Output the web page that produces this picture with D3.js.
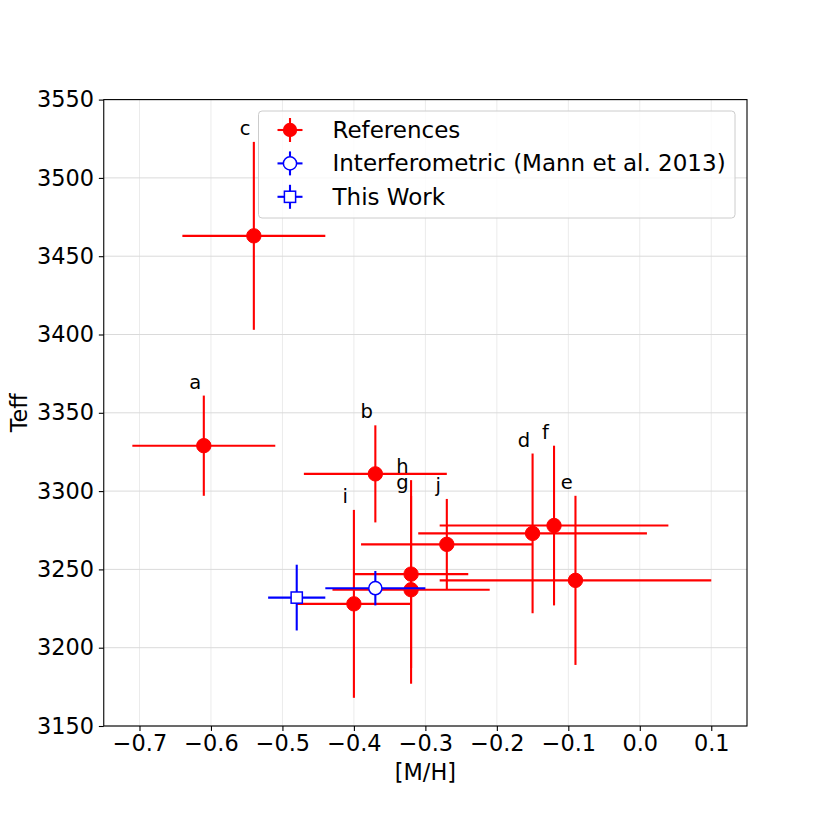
<!DOCTYPE html>
<html>
<head>
<meta charset="utf-8">
<script src="https://cdn.jsdelivr.net/npm/d3@7"></script>
<style>
  html, body { margin: 0; padding: 0; background: #fff; }
  svg { display: block; font-family: "DejaVu Sans", sans-serif; }
</style>
</head>
<body>
<svg id="chart" width="830" height="830"></svg>
<script>
// ---- data ----
const refLabels = ["a", "b", "c", "d", "e", "f", "g", "h", "i", "j"];
const refMH     = [-0.61, -0.37, -0.54, -0.15, -0.09, -0.12, -0.32, -0.32, -0.40, -0.27];
const refMHErr  = [0.10, 0.10, 0.10, 0.16, 0.19, 0.16, 0.11, 0.08, 0.08, 0.12];
const refTeff   = [3329, 3311, 3463, 3273, 3243, 3278, 3237, 3247, 3228, 3266];
const refTeffErr= [32, 31, 60, 51, 54, 51, 60, 60, 60, 29];

const interfMH = [-0.37], interfMHErr = [0.07], interfTeff = [3238], interfTeffErr = [11];
const workMH = [-0.48], workMHErr = [0.04], workTeff = [3232], workTeffErr = [21];

const xTicks = [-0.7, -0.6, -0.5, -0.4, -0.3, -0.2, -0.1, 0.0, 0.1];
const yTicks = [3150, 3200, 3250, 3300, 3350, 3400, 3450, 3500, 3550];
const xDomain = [-0.75, 0.15];
const yDomain = [3150, 3550];
const legendLabels = ["References", "Interferometric (Mann et al. 2013)", "This Work"];
const xLabel = "[M/H]", yLabel = "Teff";

// ---- layout ----
const L = 103.75, R = 747, T = 99.6, B = 726;
const FS = 22.4;
const RED = "#ff0000", BLUE = "#0000ff";

const svg = d3.select("#chart");
const x = d3.scaleLinear().domain(xDomain).range([L, R]);
const y = d3.scaleLinear().domain(yDomain).range([B, T]);

// grid
const grid = svg.append("g");
grid.selectAll("line.gx").data(xTicks).join("line")
  .attr("x1", d => x(d)).attr("x2", d => x(d)).attr("y1", T).attr("y2", B)
  .attr("stroke", "#ebebeb").attr("stroke-width", 1);
grid.selectAll("line.gy").data(yTicks).join("line")
  .attr("x1", L).attr("x2", R).attr("y1", d => y(d)).attr("y2", d => y(d))
  .attr("stroke", "#dadada").attr("stroke-width", 1);

// axes
const xAxis = svg.append("g").attr("transform", `translate(0,${B})`)
  .call(d3.axisBottom(x).tickValues(xTicks).tickFormat(d3.format(".1f"))
    .tickSize(4.9).tickPadding(4.5).tickSizeOuter(0));
const yAxis = svg.append("g").attr("transform", `translate(${L},0)`)
  .call(d3.axisLeft(y).tickValues(yTicks).tickFormat(d3.format("d"))
    .tickSize(4.9).tickPadding(4.9).tickSizeOuter(0));
[xAxis, yAxis].forEach(a => {
  a.select(".domain").remove();
  a.selectAll("text").attr("font-size", FS).attr("font-family", "DejaVu Sans").attr("fill", "#000");
  a.selectAll("line").attr("stroke", "#000").attr("stroke-width", 1.1);
});

// frame
svg.append("rect").attr("x", L).attr("y", T).attr("width", R - L).attr("height", B - T)
  .attr("fill", "none").attr("stroke", "#000").attr("stroke-width", 1.1);

// axis labels
svg.append("text").attr("x", (L + R) / 2).attr("y", 779.5).attr("text-anchor", "middle")
  .attr("font-size", FS).text(xLabel);
svg.append("text").attr("transform", `translate(27,${(T + B) / 2}) rotate(-90)`)
  .attr("text-anchor", "middle").attr("font-size", FS).text(yLabel);

// error bars
function drawSeries(mh, mhErr, teff, teffErr, color, marker) {
  const g = svg.append("g");
  const idx = d3.range(mh.length);
  g.selectAll("line.h").data(idx).join("line")
    .attr("x1", i => x(mh[i] - mhErr[i])).attr("x2", i => x(mh[i] + mhErr[i]))
    .attr("y1", i => y(teff[i])).attr("y2", i => y(teff[i]))
    .attr("stroke", color).attr("stroke-width", 2.1);
  g.selectAll("line.v").data(idx).join("line")
    .attr("x1", i => x(mh[i])).attr("x2", i => x(mh[i]))
    .attr("y1", i => y(teff[i] - teffErr[i])).attr("y2", i => y(teff[i] + teffErr[i]))
    .attr("stroke", color).attr("stroke-width", 2.1);
  if (marker === "filled") {
    g.selectAll("circle").data(idx).join("circle")
      .attr("cx", i => x(mh[i])).attr("cy", i => y(teff[i])).attr("r", 7.2)
      .attr("fill", color).attr("stroke", color).attr("stroke-width", 1);
  } else if (marker === "open") {
    g.selectAll("circle").data(idx).join("circle")
      .attr("cx", i => x(mh[i])).attr("cy", i => y(teff[i])).attr("r", 6.6)
      .attr("fill", "#fff").attr("stroke", color).attr("stroke-width", 1.5);
  } else {
    g.selectAll("rect").data(idx).join("rect")
      .attr("x", i => x(mh[i]) - 5.6).attr("y", i => y(teff[i]) - 5.6)
      .attr("width", 11.2).attr("height", 11.2)
      .attr("fill", "#fff").attr("stroke", color).attr("stroke-width", 1.5);
  }
}
drawSeries(refMH, refMHErr, refTeff, refTeffErr, RED, "filled");
drawSeries(interfMH, interfMHErr, interfTeff, interfTeffErr, BLUE, "open");
drawSeries(workMH, workMHErr, workTeff, workTeffErr, BLUE, "square");

// point labels
svg.append("g").selectAll("text").data(d3.range(refLabels.length)).join("text")
  .attr("x", i => x(refMH[i]) - 8.6)
  .attr("y", i => y(refTeff[i] + refTeffErr[i]) - 7)
  .attr("text-anchor", "middle").attr("font-size", 19.5)
  .text(i => refLabels[i]);

// legend
const lg = svg.append("g");
lg.append("rect").attr("x", 258.5).attr("y", 111).attr("width", 476.5).attr("height", 107)
  .attr("rx", 3.5).attr("fill", "#fff").attr("fill-opacity", 0.8)
  .attr("stroke", "#cccccc").attr("stroke-width", 1);
const legendColors = [RED, BLUE, BLUE];
const legendMarkers = ["filled", "open", "square"];
legendLabels.forEach((lab, i) => {
  const cy = 130 + i * 33.4, cx = 290;
  lg.append("line").attr("x1", cx - 12.5).attr("x2", cx + 12.5).attr("y1", cy).attr("y2", cy)
    .attr("stroke", legendColors[i]).attr("stroke-width", 2.1);
  lg.append("line").attr("x1", cx).attr("x2", cx).attr("y1", cy - 12).attr("y2", cy + 12)
    .attr("stroke", legendColors[i]).attr("stroke-width", 2.1);
  if (legendMarkers[i] === "filled") {
    lg.append("circle").attr("cx", cx).attr("cy", cy).attr("r", 7.2).attr("fill", RED);
  } else if (legendMarkers[i] === "open") {
    lg.append("circle").attr("cx", cx).attr("cy", cy).attr("r", 6.6)
      .attr("fill", "#fff").attr("stroke", BLUE).attr("stroke-width", 1.5);
  } else {
    lg.append("rect").attr("x", cx - 5.6).attr("y", cy - 5.6).attr("width", 11.2).attr("height", 11.2)
      .attr("fill", "#fff").attr("stroke", BLUE).attr("stroke-width", 1.5);
  }
  lg.append("text").attr("x", 332.5).attr("y", cy + 8).attr("font-size", 23).text(lab);
});
</script>
</body>
</html>
